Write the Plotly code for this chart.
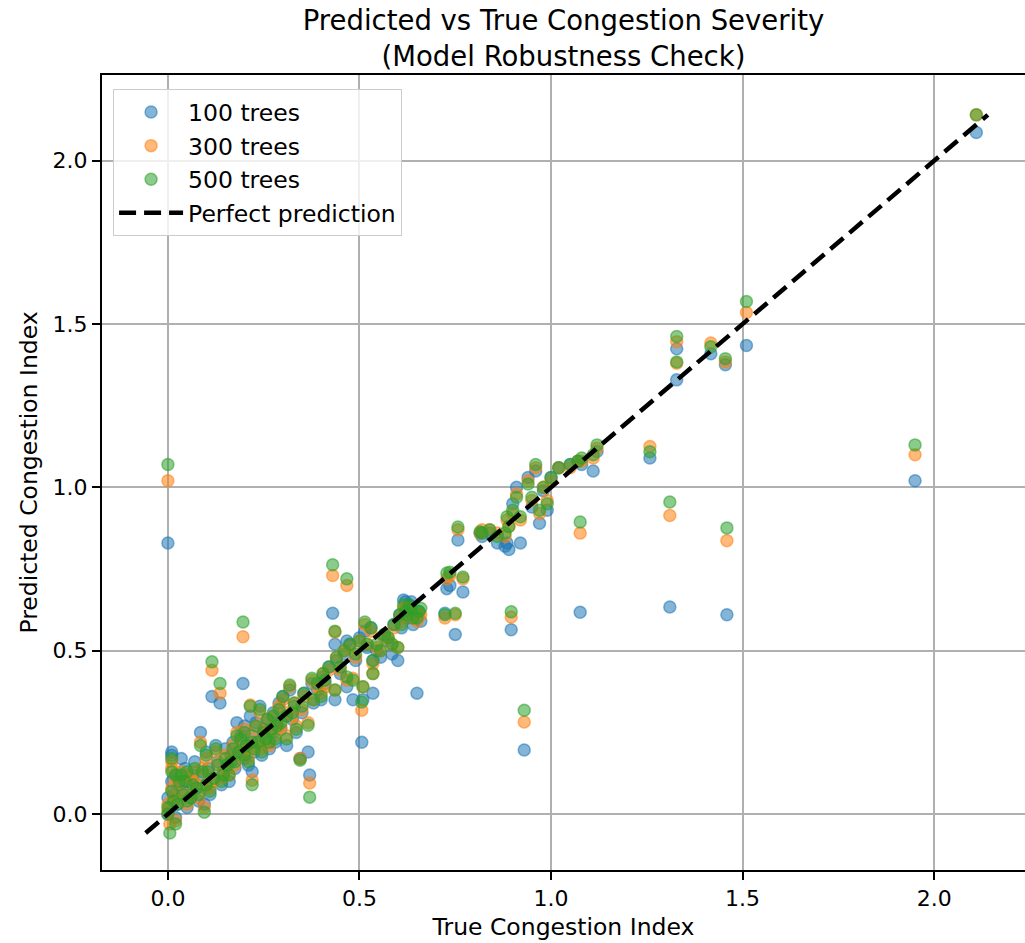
import plotly.graph_objects as go

# (true value) and predictions of the three models
true_vals = [
    0.00, 0.00, 0.00, 0.005, 0.01, 0.01, 0.01, 0.015, 0.02, 0.02, 0.025, 0.03, 0.035, 0.04, 0.045,
    0.05, 0.05, 0.06, 0.065, 0.07, 0.075, 0.08, 0.085, 0.09, 0.095, 0.10, 0.10, 0.105, 0.11, 0.115,
    0.12, 0.125, 0.13, 0.136, 0.14, 0.145, 0.15, 0.155, 0.16, 0.165, 0.17, 0.175, 0.18, 0.185, 0.19,
    0.196, 0.20, 0.20, 0.205, 0.21, 0.215, 0.22, 0.22, 0.225, 0.23, 0.235, 0.24, 0.245, 0.25, 0.255,
    0.26, 0.265, 0.27, 0.275, 0.28, 0.285, 0.29, 0.295, 0.30, 0.31, 0.31, 0.318, 0.325, 0.33, 0.335,
    0.345, 0.35, 0.355, 0.366, 0.37, 0.376, 0.38, 0.39, 0.40, 0.405, 0.41, 0.42, 0.43, 0.436, 0.436,
    0.44, 0.45, 0.46, 0.467, 0.467, 0.475, 0.483, 0.49, 0.50, 0.506, 0.509, 0.514, 0.52, 0.53, 0.535,
    0.535, 0.545, 0.555, 0.565, 0.575, 0.585, 0.59, 0.60, 0.605, 0.61, 0.615, 0.62, 0.625, 0.63, 0.635,
    0.64, 0.65, 0.655, 0.66, 0.723, 0.728, 0.736, 0.75, 0.757, 0.77, 0.815, 0.82, 0.84, 0.86, 0.88,
    0.885, 0.89, 0.896, 0.90, 0.91, 0.92, 0.93, 0.94, 0.95, 0.96, 0.97, 0.98, 0.99, 1.00, 1.02,
    1.05, 1.07, 1.076, 1.08, 1.11, 1.12, 1.258, 1.31, 1.328, 1.328, 1.417, 1.455, 1.459, 1.51, 1.95,
    2.11,
]
pred_100 = [
    0.00, 0.05, 0.83, 0.02, 0.18, 0.19, 0.10, 0.06, 0.12, -0.01, 0.03, 0.09, 0.17, 0.07, 0.14,
    0.02, 0.10, 0.05, 0.12, 0.16, 0.08, 0.04, 0.25, 0.12, 0.03, 0.09, 0.19, 0.14, 0.06, 0.36,
    0.11, 0.21, 0.16, 0.34, 0.09, 0.13, 0.20, 0.15, 0.10, 0.18, 0.22, 0.14, 0.28, 0.19, 0.24,
    0.40, 0.17, 0.27, 0.21, 0.15, 0.30, 0.13, 0.24, 0.19, 0.28, 0.22, 0.33, 0.18, 0.26, 0.23,
    0.29, 0.20, 0.25, 0.31, 0.22, 0.28, 0.34, 0.26, 0.36, 0.21, 0.30, 0.38, 0.29, 0.33, 0.25,
    0.17, 0.31, 0.37, 0.19, 0.12, 0.40, 0.34, 0.38, 0.35, 0.42, 0.40, 0.45, 0.615, 0.35, 0.52,
    0.47, 0.43, 0.49, 0.39, 0.53, 0.52, 0.35, 0.47, 0.54, 0.22, 0.35, 0.56, 0.51, 0.57, 0.37,
    0.47, 0.50, 0.48, 0.55, 0.53, 0.49, 0.58, 0.47, 0.61, 0.57, 0.655, 0.65, 0.60, 0.64, 0.65,
    0.58, 0.37, 0.62, 0.59, 0.615, 0.69, 0.70, 0.55, 0.839, 0.68, 0.86, 0.85, 0.86, 0.83, 0.82,
    0.83, 0.81, 0.564, 0.95, 1.00, 0.83, 0.196, 1.03, 0.94, 1.05, 0.89, 0.99, 0.93, 1.03, 1.06,
    1.07, 1.08, 0.618, 1.07, 1.05, 1.11, 1.09, 0.634, 1.424, 1.329, 1.409, 1.375, 0.61, 1.434, 1.02,
    2.086,
]
pred_300 = [
    0.01, 0.03, 1.02, -0.03, 0.14, 0.16, 0.08, 0.05, 0.11, -0.02, 0.04, 0.095, 0.13, 0.06, 0.11,
    0.03, 0.12, 0.06, 0.10, 0.13, 0.09, 0.05, 0.22, 0.14, 0.02, 0.08, 0.17, 0.12, 0.08, 0.44,
    0.10, 0.19, 0.15, 0.37, 0.11, 0.12, 0.18, 0.14, 0.12, 0.17, 0.21, 0.15, 0.25, 0.18, 0.22,
    0.543, 0.18, 0.26, 0.20, 0.17, 0.334, 0.104, 0.23, 0.20, 0.27, 0.21, 0.31, 0.20, 0.25, 0.22,
    0.28, 0.21, 0.26, 0.30, 0.24, 0.27, 0.33, 0.27, 0.35, 0.24, 0.31, 0.39, 0.30, 0.34, 0.27,
    0.17, 0.32, 0.36, 0.28, 0.095, 0.41, 0.35, 0.39, 0.37, 0.43, 0.39, 0.44, 0.73, 0.38, 0.557,
    0.48, 0.44, 0.50, 0.41, 0.70, 0.51, 0.416, 0.48, 0.53, 0.318, 0.39, 0.58, 0.52, 0.56, 0.43,
    0.46, 0.51, 0.50, 0.54, 0.54, 0.52, 0.57, 0.51, 0.60, 0.59, 0.63, 0.63, 0.61, 0.63, 0.62,
    0.60, 0.59, 0.61, 0.61, 0.60, 0.72, 0.73, 0.61, 0.87, 0.72, 0.86, 0.87, 0.87, 0.86, 0.85,
    0.90, 0.88, 0.603, 0.92, 0.98, 0.90, 0.282, 1.02, 0.96, 1.06, 0.92, 1.00, 0.96, 1.02, 1.06,
    1.06, 1.08, 0.86, 1.08, 1.09, 1.12, 1.125, 0.914, 1.446, 1.38, 1.442, 1.384, 0.837, 1.535, 1.10,
    2.14,
]
pred_500 = [
    0.00, 0.02, 1.07, -0.058, 0.13, 0.17, 0.07, 0.04, 0.12, -0.03, 0.03, 0.10, 0.12, 0.06, 0.10,
    0.04, 0.13, 0.05, 0.09, 0.14, 0.08, 0.06, 0.21, 0.13, 0.006, 0.09, 0.18, 0.13, 0.07, 0.466,
    0.11, 0.20, 0.15, 0.40, 0.10, 0.12, 0.17, 0.15, 0.12, 0.16, 0.20, 0.16, 0.24, 0.19, 0.23,
    0.588, 0.18, 0.25, 0.21, 0.16, 0.33, 0.09, 0.22, 0.20, 0.27, 0.22, 0.32, 0.19, 0.25, 0.23,
    0.29, 0.22, 0.26, 0.30, 0.23, 0.27, 0.32, 0.28, 0.36, 0.23, 0.30, 0.395, 0.31, 0.34, 0.26,
    0.165, 0.33, 0.37, 0.272, 0.052, 0.416, 0.35, 0.40, 0.36, 0.43, 0.41, 0.45, 0.763, 0.38, 0.56,
    0.48, 0.45, 0.50, 0.42, 0.72, 0.52, 0.41, 0.49, 0.53, 0.343, 0.39, 0.588, 0.52, 0.57, 0.43,
    0.47, 0.52, 0.50, 0.55, 0.54, 0.52, 0.58, 0.51, 0.61, 0.58, 0.64, 0.62, 0.61, 0.64, 0.63,
    0.60, 0.60, 0.62, 0.63, 0.61, 0.738, 0.74, 0.615, 0.879, 0.726, 0.864, 0.86, 0.87, 0.85, 0.86,
    0.91, 0.88, 0.619, 0.93, 0.97, 0.91, 0.318, 1.01, 0.97, 1.07, 0.93, 1.00, 0.95, 1.03, 1.06,
    1.07, 1.08, 0.894, 1.09, 1.10, 1.13, 1.109, 0.955, 1.462, 1.384, 1.43, 1.394, 0.876, 1.569, 1.13,
    2.14,
]

series_names = ["100 trees", "300 trees", "500 trees"]
series_preds = [pred_100, pred_300, pred_500]
series_colors = ["31,119,180", "255,127,14", "44,160,44"]

all_pred = pred_100 + pred_300 + pred_500
line_min = min(min(true_vals), min(all_pred))
line_max = max(max(true_vals), max(all_pred))

fig = go.Figure()
for name, pred, col in zip(series_names, series_preds, series_colors):
    fig.add_trace(go.Scatter(
        x=true_vals, y=pred, mode="markers", name=name,
        marker=dict(size=12, color=f"rgba({col},0.55)",
                    line=dict(width=1.5, color=f"rgba({col},0.55)")),
    ))
fig.add_trace(go.Scatter(
    x=[line_min, line_max], y=[line_min, line_max], mode="lines",
    name="Perfect prediction",
    line=dict(color="black", width=4.5, dash="17px,8px"),
))

font_family = "DejaVu Sans"
fig.update_layout(
    width=1025, height=943,
    margin=dict(l=102, r=0, t=75, b=73),
    paper_bgcolor="white", plot_bgcolor="white",
    font=dict(family=font_family, size=22, color="black"),
    title=dict(text="Predicted vs True Congestion Severity<br>(Model Robustness Check)",
               x=0.5, xanchor="center", xref="paper",
               y=0.968, yref="container", yanchor="top",
               font=dict(size=27.5, family=font_family)),
    showlegend=True,
    legend=dict(x=0.012, y=0.982, xanchor="left", yanchor="top",
                bgcolor="rgba(255,255,255,0.8)", bordercolor="#cccccc", borderwidth=1,
                font=dict(size=23.5, family=font_family), tracegroupgap=0, itemwidth=64),
)
fig.update_xaxes(
    range=[-0.172, 2.237], tickvals=[0, 0.5, 1.0, 1.5, 2.0],
    ticktext=["0.0", "0.5", "1.0", "1.5", "2.0"],
    showgrid=True, gridcolor="#b0b0b0", gridwidth=1.5, zeroline=False,
    showline=True, linecolor="black", linewidth=2, mirror=True,
    ticks="outside", ticklen=8, tickwidth=2, tickcolor="black",
    title=dict(text="True Congestion Index", standoff=8,
               font=dict(size=23.5, family=font_family)),
)
fig.update_yaxes(
    range=[-0.171, 2.262], tickvals=[0, 0.5, 1.0, 1.5, 2.0],
    ticktext=["0.0", "0.5", "1.0", "1.5", "2.0"],
    showgrid=True, gridcolor="#b0b0b0", gridwidth=1.5, zeroline=False,
    showline=True, linecolor="black", linewidth=2, mirror=False,
    ticks="outside", ticklen=8, tickwidth=2, tickcolor="black",
    title=dict(text="Predicted Congestion Index", standoff=8,
               font=dict(size=23.5, family=font_family)),
)

fig.write_html("out.html", config={"displayModeBar": False},
               post_script="document.body.style.margin='0';document.body.style.overflow='hidden';")
